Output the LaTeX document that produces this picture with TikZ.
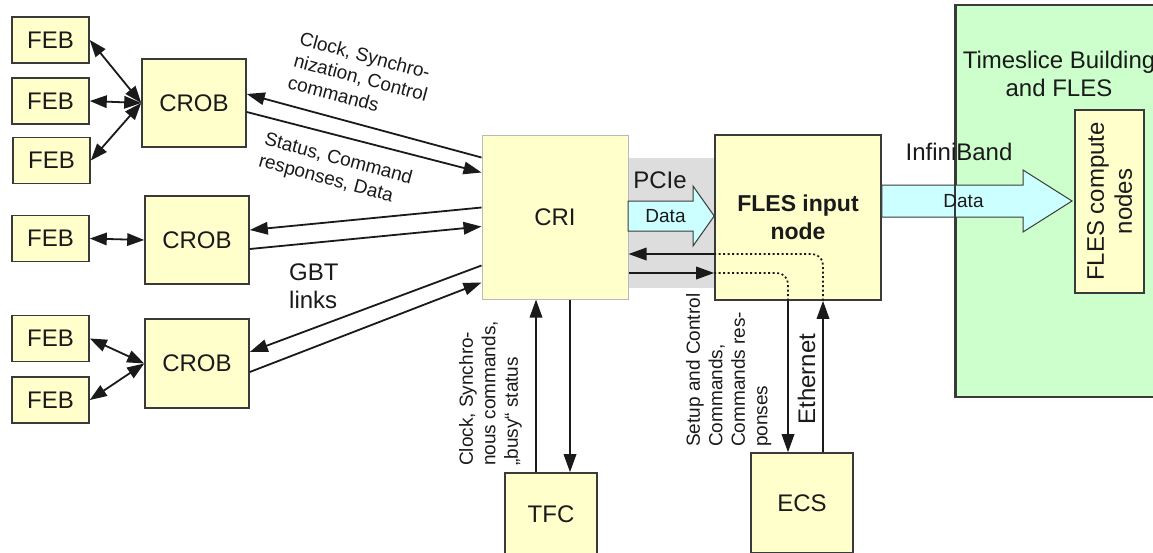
\documentclass[tikz,border=0pt]{standalone}
\usepackage{fontspec}
\setmainfont{Liberation Sans}
\usetikzlibrary{arrows.meta,calc}
\definecolor{boxfill}{HTML}{FFFFCC}
\definecolor{flesfill}{HTML}{CCFFCC}
\definecolor{flowfill}{HTML}{CCFFFF}
\definecolor{pcieback}{HTML}{DDDDDD}
\definecolor{edge}{HTML}{3A3A3A}
\definecolor{ink}{HTML}{1A1A1A}
\begin{document}
\begin{tikzpicture}[x=1pt,y=-1pt,
  big/.style={font=\fontsize{24}{28}\selectfont},
  small/.style={font=\fontsize{19}{22.5}\selectfont},
  block/.style={draw=edge, line width=1.6pt, fill=boxfill, inner sep=0pt, text=ink, big},
  feb/.style={block, minimum width=77pt, minimum height=46pt},
  crob/.style={block, minimum width=104pt, minimum height=88pt},
  link/.style={line width=1.8pt, draw=ink, -{Triangle[length=18pt,width=12.5pt]}},
  biline/.style={line width=1.8pt, draw=ink, {Triangle[length=17pt,width=12.5pt]}-{Triangle[length=17pt,width=12.5pt]}},
  dots/.style={line width=1.7pt, draw=ink, dash pattern=on 2pt off 2.5pt, rounded corners=11pt},
  fat/.style={draw=edge, line width=1pt, fill=flowfill},
  lbl/.style={text=ink, inner sep=0pt},
]
\useasboundingbox (0,0) rectangle (1153,552);
\clip (0,0) rectangle (1153,552);
\fill[white] (0,0) rectangle (1153,552);

% grey PCIe band between CRI and FLES input node
\fill[pcieback] (620,158) rectangle (725,288);

% timeslice building area
\node[draw=edge, line width=1.8pt, fill=flesfill, minimum width=204pt, minimum height=392pt, inner sep=0pt] (tsb) at (1058,201) {};
\node[block, minimum width=69pt, minimum height=183pt] (fcn) at (1109.5,201.5) {};
\node[lbl, big, rotate=90, align=center] at (fcn.center) {FLES compute\\nodes};

% front-end boards and readout boards
\node[feb] (feb1) at (50.5,40) {FEB};
\node[feb] (feb2) at (50.5,101) {FEB};
\node[feb] (feb3) at (51.5,160.5) {FEB};
\node[feb] (feb4) at (50.5,238.5) {FEB};
\node[feb] (feb5) at (50.5,338.5) {FEB};
\node[feb] (feb6) at (50.5,400) {FEB};
\node[crob] (crob1) at (194,103) {CROB};
\node[crob] (crob2) at (197,240) {CROB};
\node[crob, minimum height=89pt] (crob3) at (197,363.5) {CROB};

% central units
\node[block, draw=gray!55, line width=1pt, minimum width=146pt, minimum height=164pt] (cri) at (555,217) {CRI};
\node[block, minimum width=166pt, minimum height=165pt, align=center, font=\bfseries\fontsize{23}{28}\selectfont] (fin) at (798,217.5) {FLES input\\node};
\node[block, minimum width=92pt, minimum height=82pt] (tfc) at (551,514) {TFC};
\node[block, minimum width=102pt, minimum height=100pt] (ecs) at (802,503) {ECS};

% FEB <-> CROB links
\draw[biline] (feb1.east) -- (crob1.west);
\draw[biline] (feb2.east) -- (crob1.west);
\draw[biline] (feb3.east) -- (crob1.west);
\draw[biline] (feb4.east) -- (crob2.west);
\draw[biline] (feb5.east) -- (crob3.west);
\draw[biline] (feb6.east) -- (crob3.west);

% GBT links CRI <-> CROB
\draw[link] ([yshift=-23pt]cri.north west) -- ([yshift=9pt]crob1.east);
\draw[link] ([yshift=-9pt]crob1.east) -- ([yshift=-38pt]cri.north west);
\draw[link] ([yshift=-73pt]cri.north west) -- ([yshift=10pt]crob2.east);
\draw[link] ([yshift=-9pt]crob2.east) -- ([yshift=-92pt]cri.north west);
\draw[link] ([yshift=-131pt]cri.north west) -- ([yshift=11.5pt]crob3.east);
\draw[link] ([yshift=-8.5pt]crob3.east) -- ([yshift=-148pt]cri.north west);

% PCIe data path
\draw[fat] (628,201) -- (693,201) -- (693,186) -- (fin.west |- 0,216) -- (693,246) -- (693,231) -- (628,231) -- cycle;
\node[lbl, small] at (665.5,216.5) {Data};
\node[lbl, big] at (660,180) {PCIe};

% InfiniBand data path
\draw[fat] (fin.east |- 0,185) -- (1023,185) -- (1023,170) -- (1072,201) -- (1023,232) -- (1023,217) -- (fin.east |- 0,217) -- cycle;
\draw[draw=edge, line width=1.8pt] (tsb.north west) -- (tsb.south west);
\node[lbl, small] at (963.5,201) {Data};
\node[lbl, big] at (959,151.5) {InfiniBand};
\node[lbl, big, align=center] at (1059,74) {Timeslice Building\\and FLES};

% control path CRI <-> ECS through the FLES input node
\coordinate (u) at ([yshift=-36.5pt]fin.west);
\coordinate (v) at ([yshift=-55.5pt]fin.west);
\coordinate (e1) at ([xshift=25pt]fin.south);
\coordinate (e2) at ([xshift=-10pt]fin.south);
\draw[link] (u) -- (cri.east |- u);
\draw[link] (cri.east |- v) -- (v);
\draw[dots] (u) -| (e1);
\draw[dots] (v) -| (e2);
\draw[link] (e2) -- (e2 |- ecs.north);
\draw[link] (e1 |- ecs.north) -- (e1);

% timing and fast control
\coordinate (t1) at ([xshift=-15pt]tfc.north);
\coordinate (t2) at ([xshift=19pt]tfc.north);
\draw[link] (t1) -- (t1 |- cri.south);
\draw[link] (t2 |- cri.south) -- (t2);

% link labels
\node[lbl, small, rotate=-15, anchor=north west, align=left] at (302,31) {Clock, Synchro-\\nization, Control\\commands};
\node[lbl, small, rotate=-15, anchor=north west, align=left] at (267,131) {Status, Command\\responses, Data};
\node[lbl, big, anchor=north west, align=left] at (289,264) {GBT\\links};
\node[lbl, small, rotate=90, anchor=north west, align=left] at (459,466) {Clock, Synchro-\\nous commands,\\„busy“ status};
\node[lbl, small, rotate=90, anchor=north west, align=left] at (686,447) {Setup and Control\\Commands,\\Commands res-\\ponses};
\node[lbl, big, rotate=90] at (806.5,379) {Ethernet};
\end{tikzpicture}
\end{document}
